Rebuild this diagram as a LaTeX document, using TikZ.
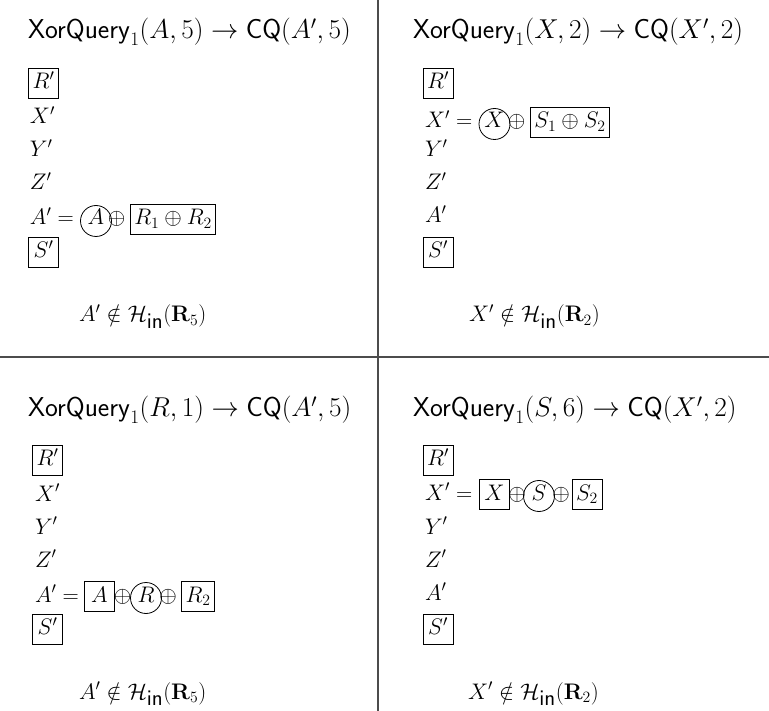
\documentclass[tikz,border=0pt]{standalone}
\usepackage{fix-cm}
\usepackage{amsmath}
\newcommand{\Hin}{\mathcal{H}_{\mbox{\textsf{in}}}}
\begin{document}
\begin{tikzpicture}[x=1pt,y=-1pt,
  every node/.style={inner sep=0pt,outer sep=0pt,font=\fontsize{22.5}{27}\selectfont},
  lbl/.style={anchor=base west},
  ttl/.style={anchor=base west,font=\fontsize{27.3}{32}\selectfont},
  boxed/.style={draw,line width=0.8pt,anchor=base,inner xsep=4pt,inner ysep=4.5pt,text height=16pt,text depth=5pt,minimum width=30pt},
  circ/.style={draw,circle,line width=0.8pt,anchor=base,minimum size=31pt,text height=12pt,text depth=4pt},
  xo/.style={anchor=base},
  divider/.style={line width=1.2pt,draw=black!70}]
\useasboundingbox (0,0) rectangle (769,711);
\coordinate (vtop) at (378,0);
\coordinate (vbot) at (378,711);
\coordinate (hl) at (0,357);
\coordinate (hr) at (769,357);
\draw[divider] (vtop) -- (vbot);
\draw[divider] (hl) -- (hr);

% top left
\node[ttl] (t1) at (28,39) {$\mathsf{XorQuery}_1(A,5)\rightarrow\mathsf{CQ}(A',5)$};
\node[boxed] (r1) at (43.5,88.5) {$R'$};
\node[lbl] (x1) at (30,124) {$X'$};
\node[lbl] (y1) at (30,157) {$Y'$};
\node[lbl] (z1) at (30,190) {$Z'$};
\node[lbl] (a1) at (30,225) {$A' =$};
\node[circ] (c1) at (96,225) {$A$};
\node[xo] (o1) at (116.5,225) {$\oplus$};
\node[boxed] (b1) at (173,225) {$R_1\oplus R_2$};
\node[boxed] (s1) at (43.5,257.5) {$S'$};
\node[lbl] (f1) at (79,322) {$A'\notin\Hin(\mathbf{R}_5)$};

% top right
\node[ttl] (t2) at (413,39) {$\mathsf{XorQuery}_1(X,2)\rightarrow\mathsf{CQ}(X',2)$};
\node[boxed] (r2) at (438,88.5) {$R'$};
\node[lbl] (x2) at (425,128) {$X' =$};
\node[circ] (c2) at (494.5,128) {$X$};
\node[xo] (o2) at (516.5,128) {$\oplus$};
\node[boxed] (b2) at (570,128) {$S_1\oplus S_2$};
\node[lbl] (y2) at (425,157) {$Y'$};
\node[lbl] (z2) at (425,190) {$Z'$};
\node[lbl] (a2) at (425,223) {$A'$};
\node[boxed] (s2) at (438,257.5) {$S'$};
\node[lbl] (f2) at (469,322) {$X'\notin\Hin(\mathbf{R}_2)$};

% bottom left
\node[ttl] (t3) at (28,417) {$\mathsf{XorQuery}_1(R,1)\rightarrow\mathsf{CQ}(A',5)$};
\node[boxed] (r3) at (47.5,465.5) {$R'$};
\node[lbl] (x3) at (35,501) {$X'$};
\node[lbl] (y3) at (35,534) {$Y'$};
\node[lbl] (z3) at (35,567) {$Z'$};
\node[lbl] (a3) at (35,602) {$A' =$};
\node[boxed] (b3a) at (99.5,602) {$A$};
\node[xo] (o3a) at (122.5,602) {$\oplus$};
\node[circ] (c3) at (146,602) {$R$};
\node[xo] (o3b) at (168,602) {$\oplus$};
\node[boxed] (b3b) at (198,602) {$R_2$};
\node[boxed] (s3) at (47.5,634.5) {$S'$};
\node[lbl] (f3) at (79,699) {$A'\notin\Hin(\mathbf{R}_5)$};

% bottom right
\node[ttl] (t4) at (413,417) {$\mathsf{XorQuery}_1(S,6)\rightarrow\mathsf{CQ}(X',2)$};
\node[boxed] (r4) at (438,465.5) {$R'$};
\node[lbl] (x4) at (425,500) {$X' =$};
\node[boxed] (b4a) at (494.5,500) {$X$};
\node[xo] (o4a) at (517,500) {$\oplus$};
\node[circ] (c4) at (539,500) {$S$};
\node[xo] (o4b) at (561,500) {$\oplus$};
\node[boxed] (b4b) at (587,500) {$S_2$};
\node[lbl] (y4) at (425,534) {$Y'$};
\node[lbl] (z4) at (425,567) {$Z'$};
\node[lbl] (a4) at (425,600) {$A'$};
\node[boxed] (s4) at (438,634.5) {$S'$};
\node[lbl] (f4) at (468,699) {$X'\notin\Hin(\mathbf{R}_2)$};
\end{tikzpicture}
\end{document}
